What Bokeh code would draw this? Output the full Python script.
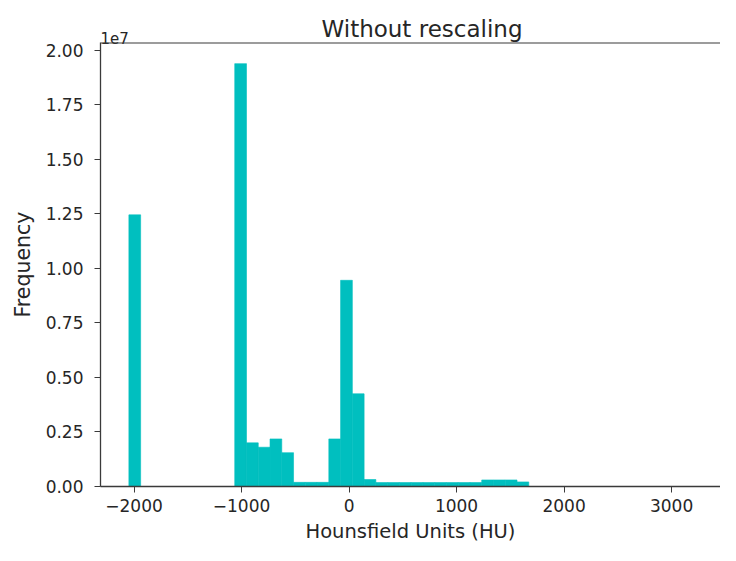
import numpy as np
from bokeh.plotting import figure
from bokeh.models import FixedTicker, Label, Range1d, Title, Span
from bokeh.embed import file_html
from bokeh.resources import INLINE

# ---- data (histogram of Hounsfield units, 50 bins) ----
hu_min = -2048
hu_max = 3422
n_bins = 50
counts = [
    12450000, 0, 0, 0, 0, 0, 0, 0, 0,
    19380000, 2000000, 1800000, 2180000, 1550000,
    190000, 190000, 190000,
    2180000, 9450000, 4250000, 320000,
    180000, 180000, 180000, 180000, 180000, 180000, 180000, 180000, 180000,
    300000, 300000, 300000, 210000,
    0, 0, 0, 0, 0, 0, 0, 0, 0, 0, 0, 0, 0, 0, 0, 0,
]
x_ticks = [-2000, -1000, 0, 1000, 2000, 3000]
x_tick_labels = ["\u22122000", "\u22121000", "0", "1000", "2000", "3000"]
y_ticks = [0, 2500000, 5000000, 7500000, 10000000, 12500000, 15000000, 17500000, 20000000]
y_tick_labels = ["0.00", "0.25", "0.50", "0.75", "1.00", "1.25", "1.50", "1.75", "2.00"]
x_limits = (-2312, 3455)

edges = np.linspace(hu_min, hu_max, n_bins + 1)
left = edges[:-1]
right = edges[1:]

FONT = "DejaVu Sans"
TXT = "#262626"
AX = "#3a3a3a"
BAR = "#00BFBF"

y_end = max(counts) * 1.05

p = figure(width=720, height=545, output_backend="svg", toolbar_location=None,
           x_range=Range1d(*x_limits), y_range=Range1d(0, y_end),
           min_border_left=100, min_border_right=0, min_border_top=42, min_border_bottom=52)
p.outline_line_color = None
p.xgrid.visible = False
p.ygrid.visible = False
p.background_fill_color = "white"
p.border_fill_color = "white"

p.quad(left=left, right=right, top=counts, bottom=0,
       fill_color=BAR, line_color=BAR, line_width=0.6)

# axes styling
xa = p.xaxis[0]
xa.ticker = FixedTicker(ticks=x_ticks)
xa.major_label_overrides = dict(zip(x_ticks, x_tick_labels))
xa.axis_label = "Hounsfield Units (HU)"
ya = p.yaxis[0]
ya.ticker = FixedTicker(ticks=y_ticks)
ya.major_label_overrides = dict(zip(y_ticks, y_tick_labels))
ya.axis_label = "Frequency"

for ax in (xa, ya):
    ax.minor_tick_line_color = None
    ax.major_tick_in = 0
    ax.major_tick_out = 6
    ax.major_tick_line_color = AX
    ax.axis_line_color = AX
    ax.axis_line_width = 1.3
    ax.major_label_text_font = FONT
    ax.major_label_text_font_size = "17px"
    ax.major_label_text_color = TXT
    ax.axis_label_text_font = FONT
    ax.axis_label_text_font_style = "normal"
    ax.axis_label_text_color = TXT
xa.axis_label_text_font_size = "19.5px"
ya.axis_label_text_font_size = "20.5px"
xa.major_label_standoff = 6
xa.axis_label_standoff = 5
ya.major_label_standoff = 11
ya.axis_label_standoff = 8

# top spine
p.add_layout(Span(location=y_end, dimension="width", line_color=AX, line_width=2.2))

# title
p.add_layout(Title(text="Without rescaling", align="left", offset=221, standoff=1,
                   text_font=FONT, text_font_size="23px", text_font_style="normal",
                   text_color=TXT), "above")

# offset text "1e7" (placed in the top panel so it is not clipped to the frame)
p.add_layout(Label(x=100, y=37, x_units="canvas", y_units="canvas", text="1e7",
                   text_font=FONT, text_font_size="15px", text_color=TXT,
                   text_align="left", text_baseline="alphabetic"), "above")

open("out.html", "w").write(file_html(p, INLINE))
